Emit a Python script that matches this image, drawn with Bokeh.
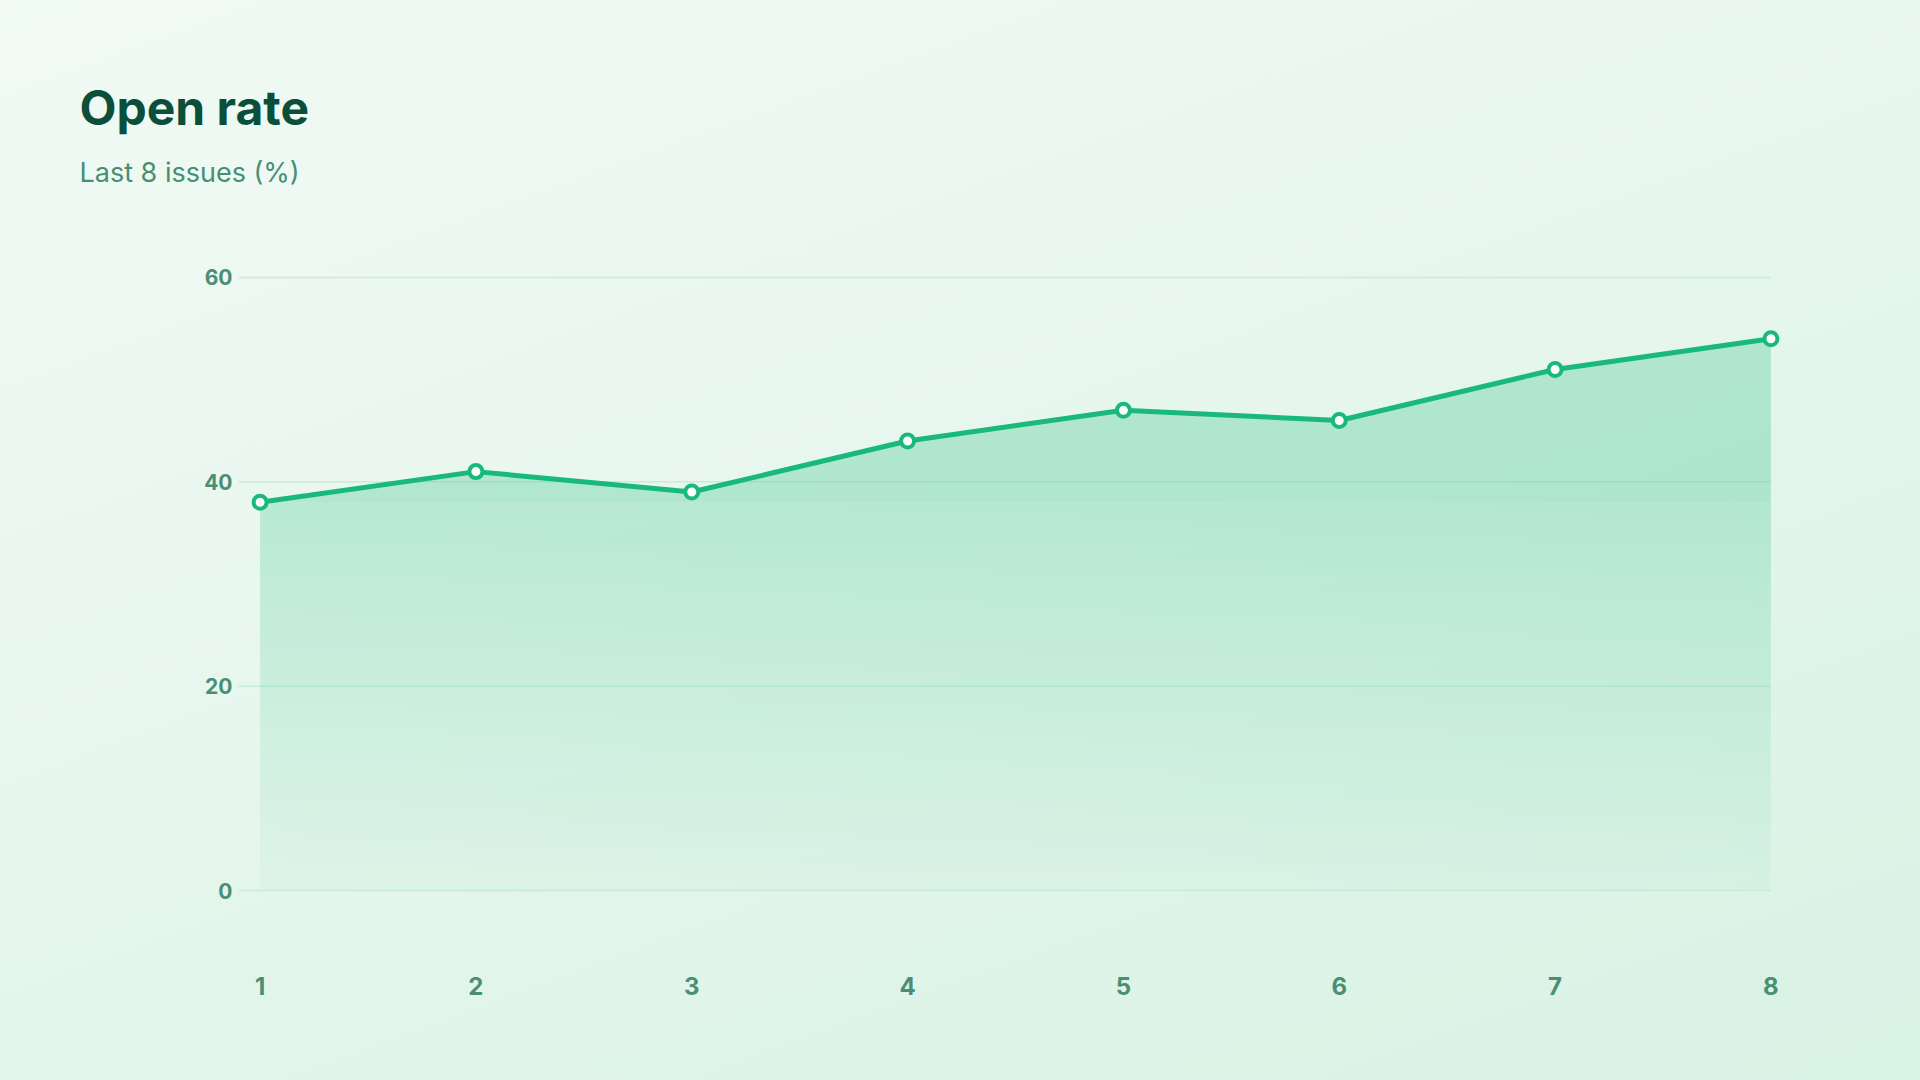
import numpy as np
from bokeh.plotting import figure
from bokeh.models import Range1d, FixedTicker, Title
from bokeh.embed import file_html
from bokeh.resources import INLINE

# ---- data ----
issues = [1, 2, 3, 4, 5, 6, 7, 8]
open_rate = [38, 41, 39, 44, 47, 46, 51, 54]
y_ticks = [0, 20, 40, 60]
title_text = "Open rate"
subtitle_text = "Last 8 issues (%)"

# ---- style ----
LINE = "#18b97b"
FILL_RGB = (46, 194, 126)
FILL = "#2ec27e"
GRID = "#c8ecdb"
TICK_LABEL = "#4a8f74"
TITLE_C = "#0b4f3b"
SUB_C = "#468f72"

W, H = 1920, 1080
ML, MR, MT, MB = 238, 128, 205, 118
X0, X1 = 0.9, 8.1
Y0 = -7.047
Y1 = 67.047

p = figure(width=W, height=H, output_backend="svg", toolbar_location=None, title=None,
           x_range=Range1d(X0, X1), y_range=Range1d(Y0, Y1),
           min_border_left=ML, min_border_right=MR,
           min_border_top=MT, min_border_bottom=MB)
p.styles = {"background": "linear-gradient(160deg, #f1faf5 0%, #e6f6ed 50%, #d8f2e4 100%)"}
p.background_fill_alpha = 0
p.border_fill_alpha = 0
p.outline_line_color = None
p.xgrid.visible = False
p.ygrid.visible = False

# axes
for ax in (p.xaxis, p.yaxis):
    ax.axis_line_color = None
    ax.major_tick_line_color = None
    ax.minor_tick_line_color = None
    ax.major_tick_out = 0
    ax.major_tick_in = 0
    ax.minor_tick_out = 0
    ax.major_label_text_font = "Inter"
    ax.major_label_text_font_style = "bold"
    ax.major_label_text_color = TICK_LABEL
p.xaxis.ticker = FixedTicker(ticks=issues)
p.yaxis.ticker = FixedTicker(ticks=y_ticks)
p.xaxis.major_label_text_font_size = "24px"
p.yaxis.major_label_text_font_size = "21px"
p.xaxis.major_label_standoff = 14
p.yaxis.major_label_standoff = 6

# grid lines (from tick values, spanning to last issue)
p.segment(x0=[X0] * len(y_ticks), x1=[issues[-1]] * len(y_ticks),
          y0=y_ticks, y1=y_ticks, line_color=GRID, line_width=1.5)

# gradient area fill
ymin = min(open_rate)
ymax = max(open_rate)
A_BOT, A_TOP = 0.03, 0.36
ROWS = 240
img = np.empty((ROWS, 1), dtype=np.uint32)
view = img.view(dtype=np.uint8).reshape((ROWS, 1, 4))
rows_y = (np.arange(ROWS) + 0.5) / ROWS * ymin
alphas = A_BOT + (A_TOP - A_BOT) * rows_y / ymax
view[:, 0, 0] = FILL_RGB[0]
view[:, 0, 1] = FILL_RGB[1]
view[:, 0, 2] = FILL_RGB[2]
view[:, 0, 3] = np.round(alphas * 255).astype(np.uint8)
p.image_rgba(image=[img], x=issues[0], y=0, dw=issues[-1] - issues[0], dh=ymin)
upper_alpha = A_BOT + (A_TOP - A_BOT) * (ymin + 0.3 * (ymax - ymin)) / ymax
p.varea(x=issues, y1=[ymin] * len(issues), y2=open_rate, fill_color=FILL, fill_alpha=upper_alpha)

# line + markers
p.line(issues, open_rate, line_color=LINE, line_width=5)
p.scatter(issues, open_rate, size=13, fill_color="white", line_color=LINE, line_width=4)

# titles (subtitle closest to the plot, title above it)
p.add_layout(Title(text=subtitle_text, align="left", offset=-159, standoff=33,
                   text_font="Inter", text_font_style="normal", text_font_size="27px",
                   text_color=SUB_C), "above")
p.add_layout(Title(text=title_text, align="left", offset=-159, standoff=1,
                   text_font="Inter", text_font_style="bold", text_font_size="48px",
                   text_color=TITLE_C), "above")

open("out.html", "w").write(file_html(p, INLINE))
